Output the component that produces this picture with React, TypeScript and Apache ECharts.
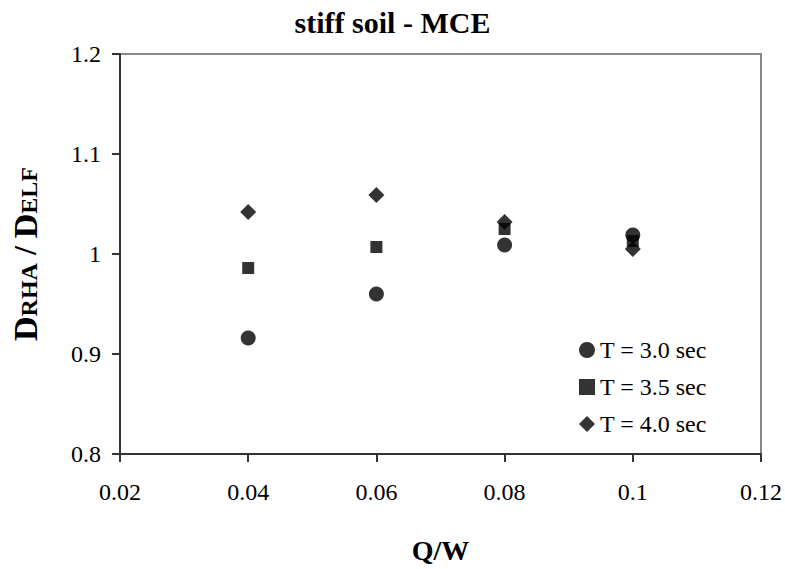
import React, { useEffect, useRef } from "react";
import * as echarts from "echarts";

const xValues = [0.04, 0.06, 0.08, 0.1];
const seriesNames = ["T = 3.0 sec", "T = 3.5 sec", "T = 4.0 sec"];
const t30 = [0.916, 0.96, 1.009, 1.019];
const t35 = [0.986, 1.007, 1.025, 1.013];
const t40 = [1.042, 1.059, 1.032, 1.005];
const symbols = ["circle", "rect", "diamond"];
const symbolSizes = [15, 12, 16];

const FONT = "'Liberation Serif', 'Times New Roman', serif";

export default function App() {
  const ref = useRef<HTMLDivElement>(null);
  useEffect(() => {
    document.body.style.margin = "0";
    if (!ref.current) return;
    const chart = echarts.init(ref.current, null, { renderer: "svg" });
    const all = [t30, t35, t40];
    chart.setOption({
      animation: false,
      backgroundColor: "#ffffff",
      title: {
        text: "stiff soil - MCE",
        left: "center",
        top: 2,
        textStyle: { fontFamily: FONT, fontWeight: "bold", fontSize: 30, color: "#000" },
      },
      grid: {
        left: 100,
        right: 23,
        top: 54,
        bottom: 107,
        show: true,
        borderColor: "#888888",
        borderWidth: 2,
        backgroundColor: "transparent",
      },
      legend: {
        orient: "vertical",
        left: 574,
        top: 333,
        itemWidth: 16,
        itemHeight: 16,
        itemGap: 13,
        textStyle: { fontFamily: FONT, fontSize: 24, color: "#000" },
        data: seriesNames.map((n, i) => ({ name: n, icon: symbols[i] })),
      },
      xAxis: {
        type: "value",
        min: 0.02,
        max: 0.12,
        interval: 0.02,
        name: "Q/W",
        nameLocation: "middle",
        nameGap: 82,
        nameTextStyle: { fontFamily: FONT, fontWeight: "bold", fontSize: 28, color: "#000" },
        axisLine: { show: true, onZero: false, lineStyle: { color: "#333", width: 2 } },
        axisTick: { show: true, inside: false, length: 8, lineStyle: { color: "#333", width: 2 } },
        axisLabel: {
          margin: 26,
          fontFamily: FONT,
          fontSize: 24,
          color: "#000",
          formatter: (v: number) => String(+v.toFixed(2)),
        },
        splitLine: { show: false },
      },
      yAxis: {
        type: "value",
        min: 0.8,
        max: 1.2,
        interval: 0.1,
        name: "{a|D}{b|RHA} / {a|D}{b|ELF}",
        nameLocation: "middle",
        nameRotate: 90,
        nameGap: 78,
        nameTextStyle: {
          fontFamily: FONT,
          fontWeight: "bold",
          fontSize: 32,
          color: "#000",
          rich: {
            a: { fontFamily: FONT, fontWeight: "bold", fontSize: 34, color: "#000" },
            b: { fontFamily: FONT, fontWeight: "bold", fontSize: 24, color: "#000", padding: [8, 0, 0, 0] },
          },
        },
        axisLine: { show: true, onZero: false, lineStyle: { color: "#333", width: 2 } },
        axisTick: { show: true, inside: false, length: 8, lineStyle: { color: "#333", width: 2 } },
        axisLabel: {
          margin: 19,
          fontFamily: FONT,
          fontSize: 24,
          color: "#000",
          formatter: (v: number) => String(+v.toFixed(1)),
        },
        splitLine: { show: false },
      },
      series: seriesNames.map((name, i) => ({
        name,
        type: "scatter",
        symbol: symbols[i],
        symbolSize: symbolSizes[i],
        itemStyle: { color: "#000" },
        data: xValues.map((x, j) => [x, all[i][j]]),
      })),
    });
    return () => chart.dispose();
  }, []);
  return <div ref={ref} style={{ width: 785, height: 569 }} />;
}
